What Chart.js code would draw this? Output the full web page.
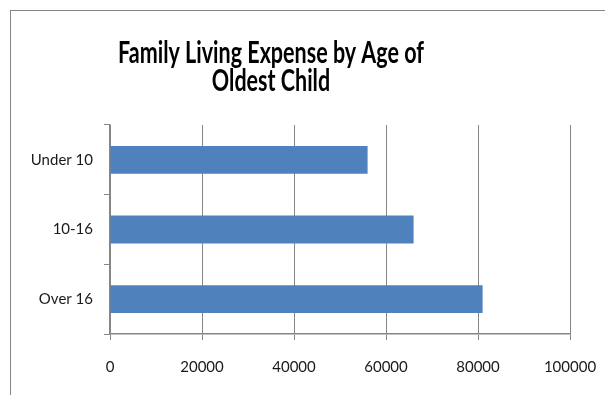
<!DOCTYPE html>
<html>
<head>
<meta charset="utf-8">
<script src="https://cdn.jsdelivr.net/npm/chart.js@4"></script>
<style>
  html, body { margin: 0; padding: 0; background: #fff; overflow: hidden; }
  #wrap { position: relative; width: 605px; height: 395px; }
</style>
</head>
<body>
<div id="wrap"><canvas id="chart" width="605" height="395"></canvas></div>
<script>
const categories = ['Under 10', '10-16', 'Over 16'];
const expenses = [56000, 66000, 81000];
const titleLines = ['Family Living Expense by Age of', 'Oldest Child'];

const axisGray = '#868686';

// frame + title drawn on the canvas, Excel style
const framePlugin = {
    id: 'frame',
    beforeDraw(chart) {
        const ctx = chart.ctx;
        ctx.save();
        ctx.strokeStyle = axisGray;
        ctx.lineWidth = 1;
        ctx.strokeRect(10.5, 10.5, 700, 500);
        ctx.restore();
    },
    afterDraw(chart) {
        const ctx = chart.ctx;
        ctx.save();
        ctx.fillStyle = '#000';
        ctx.font = 'bold 30px Lato';
        ctx.textAlign = 'center';
        ctx.textBaseline = 'alphabetic';
        // squeeze horizontally, like the narrow original font
        const w = ctx.measureText(titleLines[0]).width;
        const sx = 306 / w;
        ctx.translate(271, 0);
        ctx.scale(sx, 1);
        ctx.fillText(titleLines[0], 0, 63);
        ctx.fillText(titleLines[1], 0, 91);
        ctx.restore();
    }
};

new Chart(document.getElementById('chart'), {
    type: 'bar',
    data: {
        labels: categories,
        datasets: [{
            data: expenses,
            backgroundColor: '#4F81BD',
            borderWidth: 0,
            categoryPercentage: 1,
            barPercentage: 0.4
        }]
    },
    options: {
        indexAxis: 'y',
        responsive: false,
        animation: false,
        layout: { padding: { top: 125, right: 35, left: 0, bottom: 0 } },
        plugins: {
            legend: { display: false },
            title: { display: false },
            tooltip: { enabled: false }
        },
        scales: {
            x: {
                min: 0,
                max: 100000,
                ticks: {
                    stepSize: 20000,
                    color: '#1a1a1a',
                    font: { family: 'Lato', size: 15 },
                    padding: 18,
                    maxRotation: 0,
                    callback: (v) => String(v)
                },
                grid: {
                    color: axisGray,
                    lineWidth: 1,
                    tickLength: 6,
                    drawTicks: true
                },
                border: { color: axisGray, width: 1.5 },
                afterFit(scale) {
                    scale.height = 61;
                    scale.paddingRight = 0;
                    scale.paddingLeft = 0;
                }
            },
            y: {
                ticks: {
                    color: '#1a1a1a',
                    font: { family: 'Lato', size: 15 },
                    padding: 11
                },
                grid: {
                    offset: true,
                    drawOnChartArea: false,
                    color: axisGray,
                    tickLength: 6
                },
                border: { color: axisGray, width: 1.5 },
                afterFit(scale) { scale.width = 110; }
            }
        }
    },
    plugins: [framePlugin]
});
</script>
</body>
</html>
